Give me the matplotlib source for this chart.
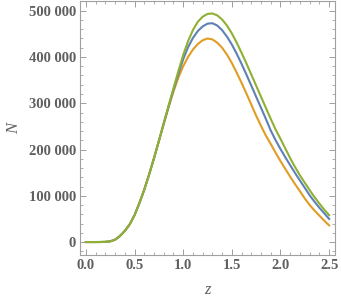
import numpy as np
import matplotlib.pyplot as plt
from matplotlib.ticker import MultipleLocator, FuncFormatter

# redshift grid (step 0.05) and N(z) for the three curves
z = [0.00, 0.05, 0.10, 0.15, 0.20, 0.25, 0.30, 0.35, 0.40, 0.45, 0.50,
     0.55, 0.60, 0.65, 0.70, 0.75, 0.80, 0.85, 0.90, 0.95, 1.00,
     1.05, 1.10, 1.15, 1.20, 1.25, 1.30, 1.35, 1.40, 1.45, 1.50,
     1.55, 1.60, 1.65, 1.70, 1.75, 1.80, 1.85, 1.90, 1.95, 2.00,
     2.05, 2.10, 2.15, 2.20, 2.25, 2.30, 2.35, 2.40, 2.45, 2.50]
n_blue = [0, 0, 0, 100, 400, 1500, 5000, 13000, 24000, 38000, 58000,
          84000, 113000, 146000, 181000, 218000, 256000, 293000, 329000, 363000, 395000,
          421000, 441000, 456000, 466000, 472000, 473000, 468000, 458000, 444000, 427000,
          407000, 385000, 362000, 338000, 314000, 290000, 266000, 241000, 220000, 201000,
          183000, 166000, 149000, 133000, 117000, 101000, 87000, 74000, 62000, 50000]
n_orange = [0, 0, 0, 100, 400, 1500, 5000, 13000, 24000, 38000, 58000,
            84000, 113000, 146000, 181000, 218000, 255000, 291000, 325000, 355000, 380000,
            400000, 416000, 428000, 436000, 440000, 438000, 431000, 420000, 405000, 387000,
            366000, 344000, 321000, 297000, 273000, 251000, 230000, 212000, 193000, 175000,
            158000, 141000, 125000, 110000, 94000, 80000, 68000, 57000, 46000, 36000]
n_green = [0, 0, 0, 100, 400, 1500, 5000, 13000, 24000, 38000, 58000,
           84000, 113000, 146000, 181000, 218000, 257000, 295000, 332000, 369000, 404000,
           434000, 458000, 476000, 487000, 493000, 494000, 490000, 481000, 468000, 451000,
           431000, 409000, 386000, 362000, 338000, 314000, 290000, 266000, 243000, 223000,
           202000, 181000, 162000, 144000, 128000, 112000, 97000, 83000, 70000, 58000]

gray = '#5f5f5f'
fig = plt.figure(figsize=(3.41, 3.03), dpi=100)
ax = fig.add_axes([80 / 341, 1 - 255 / 303, 255 / 341, 254 / 303])

ax.plot(z, n_orange, color='#E19C24', lw=1.5)
ax.plot(z, n_blue, color='#5E81B5', lw=1.5)
ax.plot(z, n_green, color='#8FB032', lw=1.5)

ax.set_xlim(-0.06, 2.56)
ax.set_ylim(-28000, 521000)

ax.xaxis.set_major_locator(MultipleLocator(0.5))
ax.xaxis.set_minor_locator(MultipleLocator(0.1))
ax.yaxis.set_major_locator(MultipleLocator(100000))
ax.yaxis.set_minor_locator(MultipleLocator(20000))
ax.xaxis.set_major_formatter(FuncFormatter(lambda v, p: f'{v:.1f}'))
ax.yaxis.set_major_formatter(FuncFormatter(lambda v, p: f'{int(round(v)):,}'.replace(',', ' ')))

for s in ax.spines.values():
    s.set_color('#a0a0a0')
    s.set_linewidth(0.8)
ax.tick_params(which='both', direction='in', top=True, right=True, color='#a0a0a0',
               labelcolor=gray, labelsize=10.5, pad=3)
ax.tick_params(which='major', length=4, width=0.7)
ax.tick_params(which='minor', length=2, width=0.6)
for lab in ax.get_xticklabels() + ax.get_yticklabels():
    lab.set_family('Liberation Serif')
    lab.set_fontweight('bold')

ax.set_xlabel('z', family='Liberation Serif', style='italic', color=gray, fontsize=12, labelpad=7)
ax.set_ylabel('N', family='Liberation Serif', style='italic', color=gray, fontsize=12, labelpad=5)

fig.savefig('out.png', dpi=100)
